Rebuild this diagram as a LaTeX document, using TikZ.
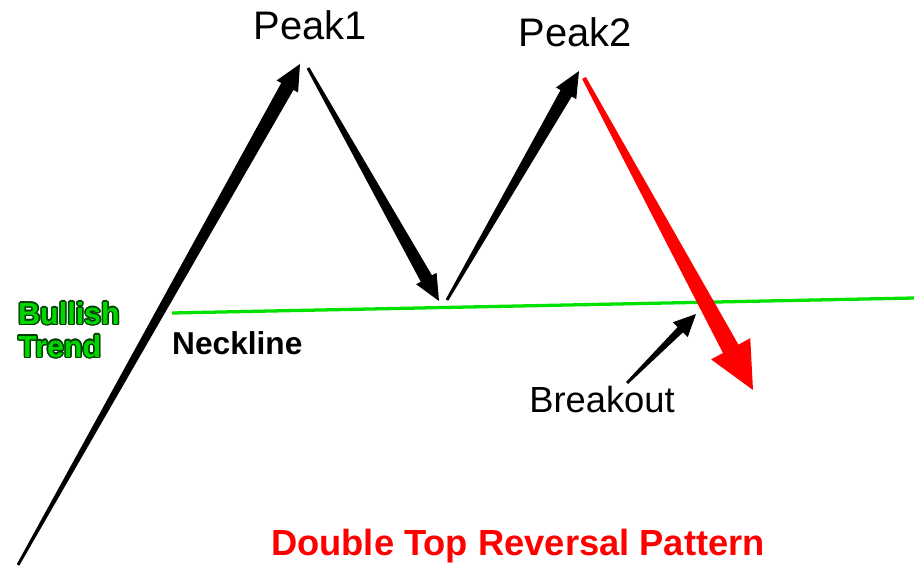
\documentclass[tikz,border=0pt]{standalone}
\usepackage{fontspec}
\setmainfont{Liberation Sans}
\usepackage{xcolor}
\usepackage[copies]{contour}
\usepackage{tikz}
\usetikzlibrary{calc,positioning}

\definecolor{trendgreen}{RGB}{0,215,0}
\definecolor{neckgreen}{RGB}{0,225,0}
\definecolor{breakred}{RGB}{255,0,0}

% tapered arrow: from, to, tail half width, shaft half width, head half width, head length, colour
\newcommand{\taperarrow}[7]{%
    \path ($(#2)!#6!(#1)$) coordinate (hb);
    \fill[#7] ($(#1)!#3!90:(#2)$) -- ($(hb)!#4!90:(#2)$) -- ($(hb)!#5!90:(#2)$) -- (#2)
        -- ($(hb)!#5!-90:(#2)$) -- ($(hb)!#4!-90:(#2)$) -- ($(#1)!#3!-90:(#2)$) -- cycle;
}

\begin{document}
\begin{tikzpicture}[
        x=0.03cm, y=-0.03cm,
        lbl/.style={inner sep=0pt, font=\fontsize{34}{38}\selectfont},
        smalllbl/.style={inner sep=0pt, font=\bfseries\fontsize{27}{30}\selectfont},
        trendlbl/.style={inner sep=0pt, align=left, text=trendgreen, font=\bfseries\fontsize{26}{28}\selectfont},
        titlelbl/.style={inner sep=0pt, text=breakred, font=\bfseries\fontsize{31}{34}\selectfont},
        neck/.style={neckgreen, line width=2.8pt}
    ]
        \useasboundingbox (0,0) rectangle (914,567);
        \fill[white] (0,0) rectangle (914,567);

        \coordinate (start) at (18,565);
        \coordinate (peak1) at (300,64);
        \coordinate (peak1out) at (308,68);
        \coordinate (trough) at (439,301);
        \coordinate (troughout) at (447,300);
        \coordinate (peak2) at (579,71);
        \coordinate (peak2out) at (584,78);
        \coordinate (target) at (753,390);
        \coordinate (neckL) at (172,313);
        \coordinate (neckR) at (914,298);
        \coordinate (brkfrom) at (627,383);
        \coordinate (brkto) at (696,314);

        \draw[neck] (neckL) -- (neckR);

        \taperarrow{start}{peak1}{1.2pt}{6pt}{10.5pt}{22pt}{black}
        \taperarrow{peak1out}{trough}{1.3pt}{5.5pt}{10pt}{22pt}{black}
        \taperarrow{troughout}{peak2}{1.2pt}{5.5pt}{10pt}{22pt}{black}
        \taperarrow{peak2out}{target}{1.8pt}{7.5pt}{19pt}{40pt}{breakred}
        \taperarrow{brkfrom}{brkto}{1.2pt}{3.2pt}{9pt}{19pt}{black}

        \node[lbl, anchor=base] (peaklbl1) at (310,40) {Peak1};
        \node[lbl, anchor=base] (peaklbl2) at (575,47) {Peak2};
        \node[smalllbl, anchor=base west] (necklbl) at (172,355) {Neckline};
        \node[lbl, font=\fontsize{31}{34}\selectfont, anchor=base] (breaklbl) at (602,413) {Breakout};
        \node[titlelbl, anchor=base] (title) at (518,555) {Double Top Reversal Pattern};
        \node[trendlbl, anchor=north west] (trendlbl) at (18,302) {%
            \contourlength{1.2pt}\contour{black!75!green}{Bullish}\\
            \contourlength{1.2pt}\contour{black!75!green}{Trend}};
    \end{tikzpicture}
\end{document}
